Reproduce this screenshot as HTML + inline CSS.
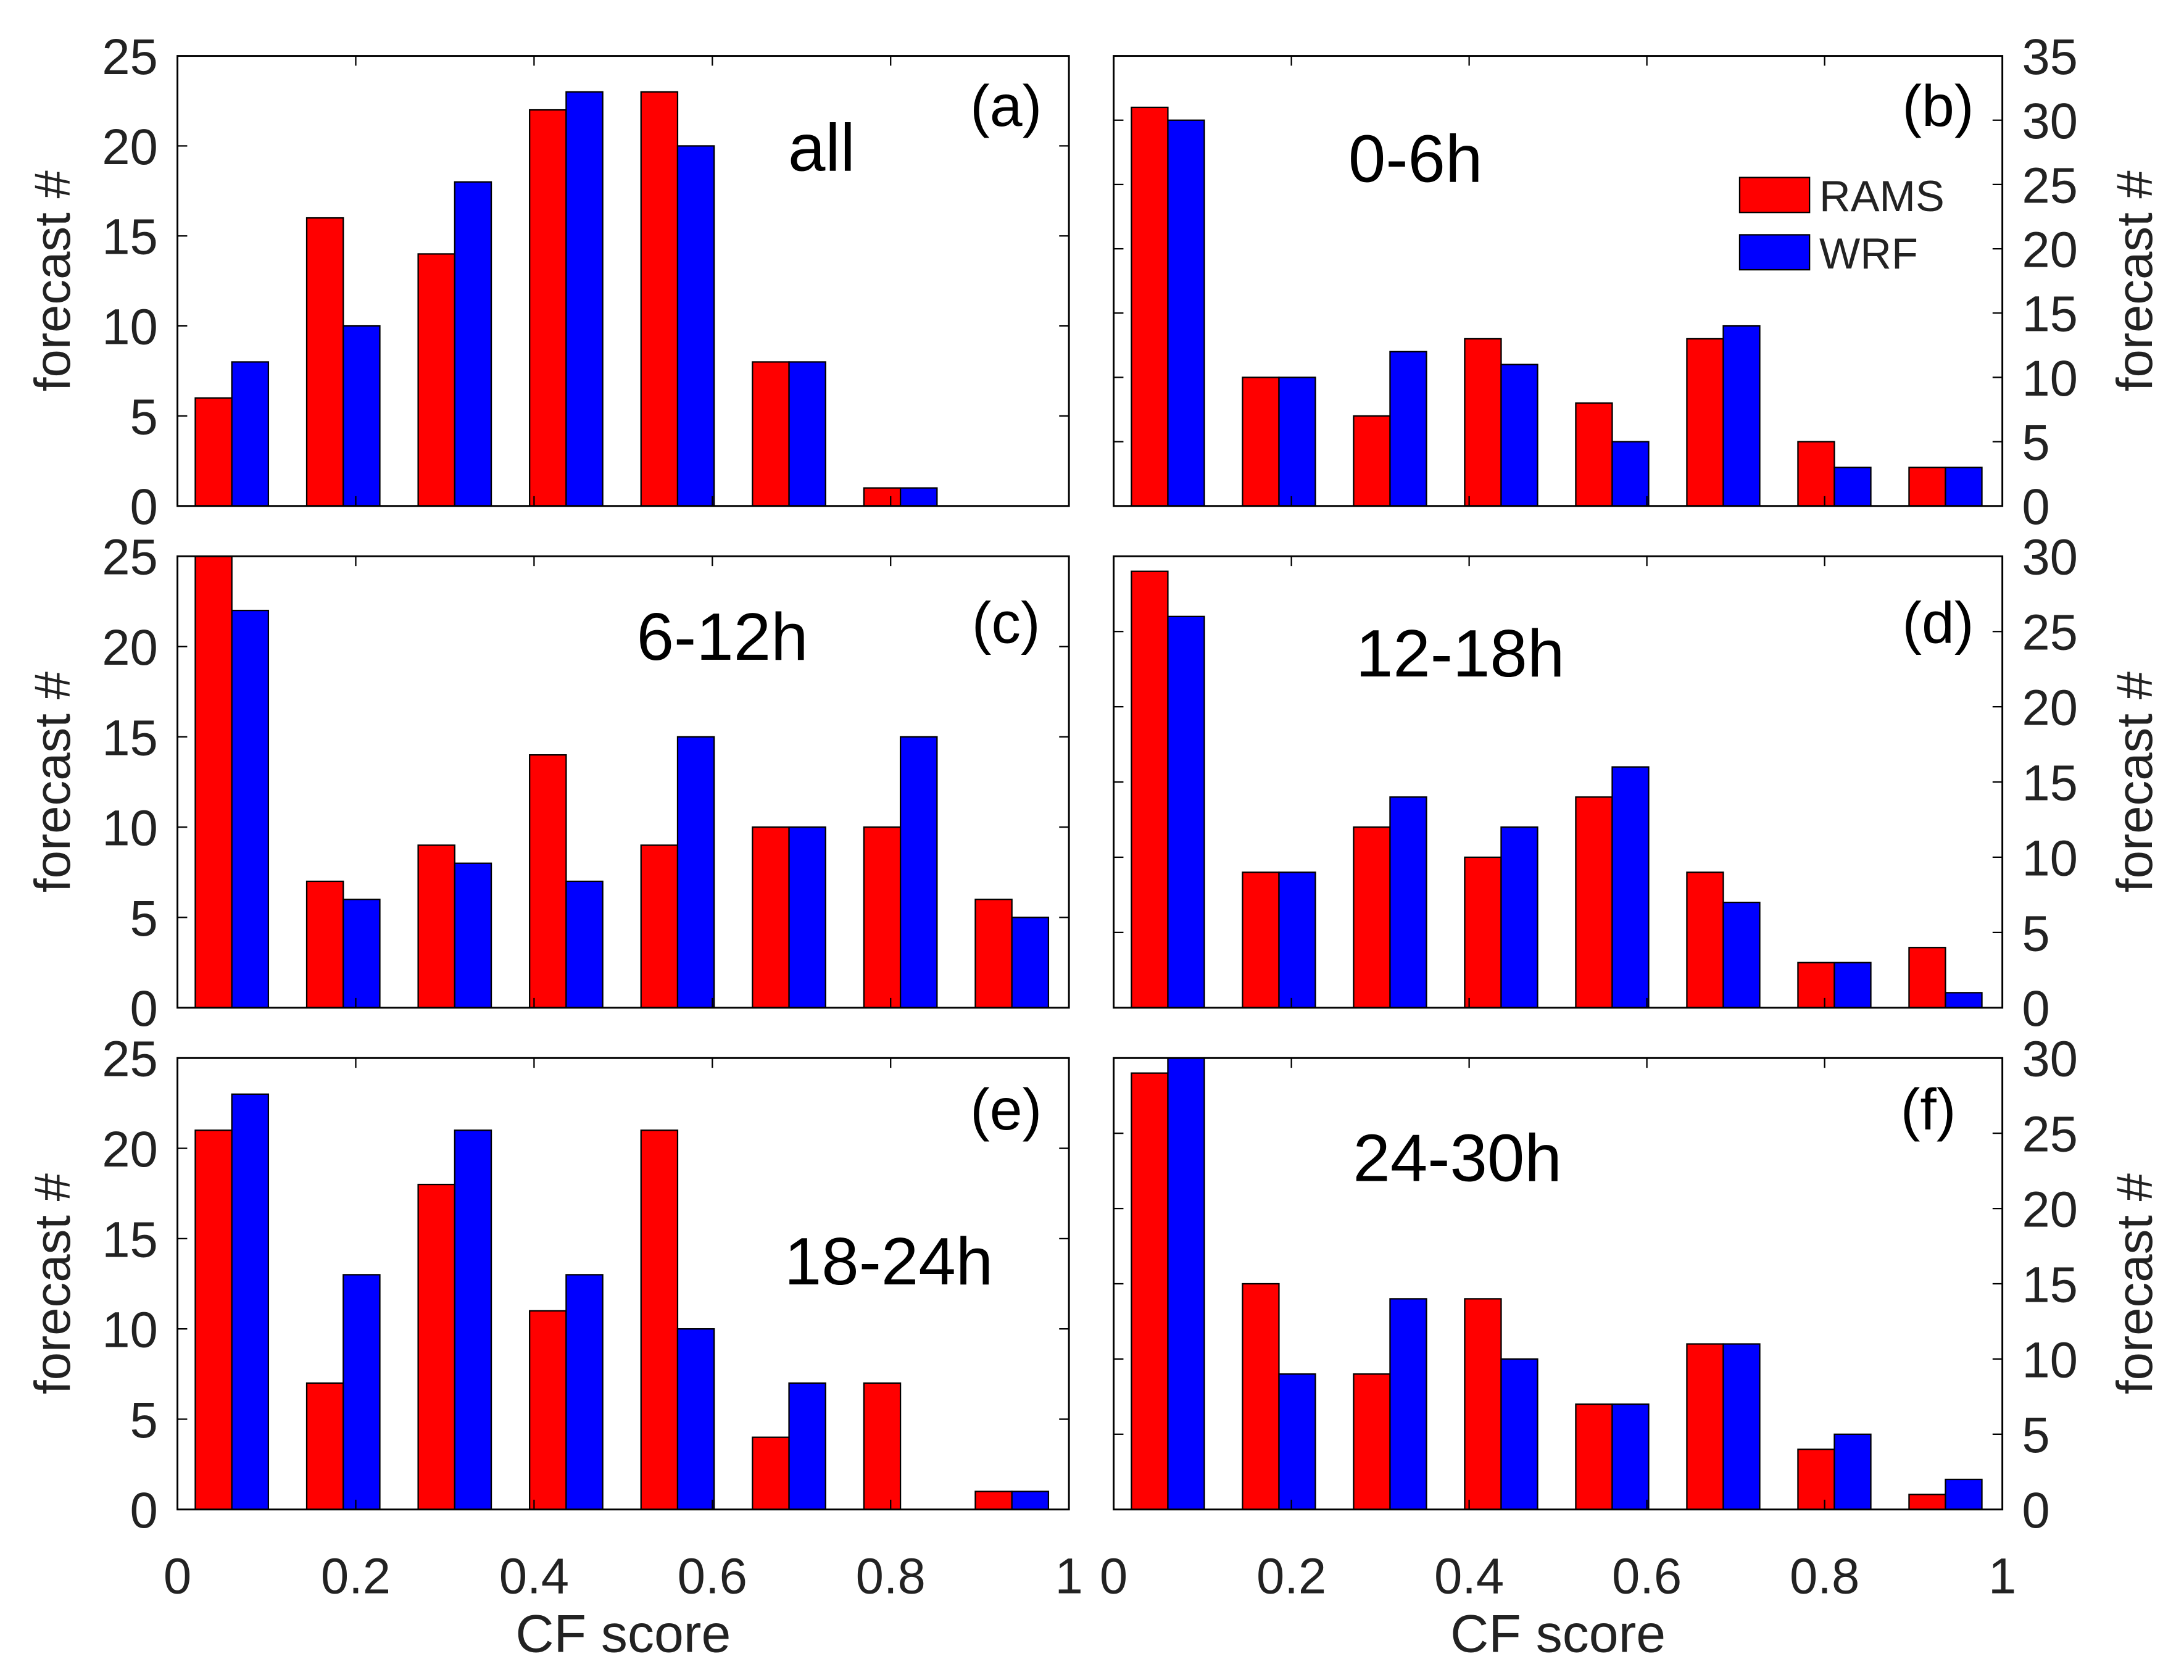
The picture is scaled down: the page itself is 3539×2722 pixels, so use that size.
<!DOCTYPE html>
<html><head><meta charset="utf-8">
<style>html,body{margin:0;padding:0;background:#fff}svg{display:block}</style>
</head><body>
<svg id="chart" width="3539" height="2722" viewBox="0 0 1563 1202" preserveAspectRatio="none" xmlns="http://www.w3.org/2000/svg" font-family="Liberation Sans, sans-serif"></svg>
<script>
const binStarts = [0,0.125,0.25,0.375,0.5,0.625,0.75,0.875];
const ramsA = [6,16,14,22,23,8,1,0];
const wrfA  = [8,10,18,23,20,8,1,0];
const ramsB = [31,10,7,13,8,13,5,3];
const wrfB  = [30,10,12,11,5,14,3,3];
const ramsC = [25,7,9,14,9,10,10,6];
const wrfC  = [22,6,8,7,15,10,15,5];
const ramsD = [29,9,12,10,14,9,3,4];
const wrfD  = [26,9,14,12,16,7,3,1];
const ramsE = [21,7,18,11,21,4,7,1];
const wrfE  = [23,13,21,13,10,7,0,1];
const ramsF = [29,15,9,14,7,11,4,1];
const wrfF  = [30,9,14,10,7,11,5,2];
const xTicks = [0,0.2,0.4,0.6,0.8,1];
const xTickLabels = ['0','0.2','0.4','0.6','0.8','1'];

const panels = [
 {id:'a',x0:127,x1:765,y0:40,y1:362,ymax:25,step:5,side:'left',r:ramsA,w:wrfA,lab:'(a)',lx:720,ly:90,t:'all',tx:588,ty:122,xl:false},
 {id:'b',x0:797,x1:1433,y0:40,y1:362,ymax:35,step:5,side:'right',r:ramsB,w:wrfB,lab:'(b)',lx:1387,ly:90,t:'0-6h',tx:1013,ty:130,xl:false,legend:true},
 {id:'c',x0:127,x1:765,y0:398,y1:721,ymax:25,step:5,side:'left',r:ramsC,w:wrfC,lab:'(c)',lx:720,ly:460,t:'6-12h',tx:517,ty:472,xl:false},
 {id:'d',x0:797,x1:1433,y0:398,y1:721,ymax:30,step:5,side:'right',r:ramsD,w:wrfD,lab:'(d)',lx:1387,ly:460,t:'12-18h',tx:1045,ty:484,xl:false},
 {id:'e',x0:127,x1:765,y0:757,y1:1080,ymax:25,step:5,side:'left',r:ramsE,w:wrfE,lab:'(e)',lx:720,ly:808,t:'18-24h',tx:636,ty:919,xl:true},
 {id:'f',x0:797,x1:1433,y0:757,y1:1080,ymax:30,step:5,side:'right',r:ramsF,w:wrfF,lab:'(f)',lx:1380,ly:808,t:'24-30h',tx:1043,ty:845,xl:true}
];
const svg = document.getElementById('chart');
const NS = 'http://www.w3.org/2000/svg';
function mk(tag, attrs, parent, text){
  const e = document.createElementNS(NS, tag);
  for (const k in attrs) e.setAttribute(k, attrs[k]);
  if (text !== undefined) e.textContent = text;
  (parent||svg).appendChild(e);
  return e;
}
panels.forEach(p=>{
  const g = mk('g',{});
  
  
  const sx = v => p.x0 + v*(p.x1-p.x0);
  const sy = v => p.y1 - v/p.ymax*(p.y1-p.y0);
  binStarts.forEach((b,i)=>{
    const r = mk('rect',{x:sx(b+0.02),y:sy(p.r[i]),width:sx(b+0.061)-sx(b+0.02),height:sy(0)-sy(p.r[i]),fill:'#ff0000',stroke:'#000','stroke-width':1},g);
    
    
    const w = mk('rect',{x:sx(b+0.061),y:sy(p.w[i]),width:sx(b+0.102)-sx(b+0.061),height:sy(0)-sy(p.w[i]),fill:'#0000ff',stroke:'#000','stroke-width':1},g);
    
    
  });
  const box = mk('rect',{x:p.x0,y:p.y0,width:p.x1-p.x0,height:p.y1-p.y0,fill:'none',stroke:'#000','stroke-width':1.3},g);
  
  
  xTicks.forEach((t,i)=>{
    mk('line',{x1:sx(t),x2:sx(t),y1:p.y1,y2:p.y1-7,stroke:'#000'},g);
    mk('line',{x1:sx(t),x2:sx(t),y1:p.y0,y2:p.y0+7,stroke:'#000'},g);
    if(p.xl){
      const tl = mk('text',{x:sx(t),y:1140,'font-size':36,'text-anchor':'middle',fill:'#222'},g,xTickLabels[i]);
      
      
    }
  });
  for(let v=0; v<=p.ymax; v+=p.step){
    mk('line',{x1:p.x0,x2:p.x0+7,y1:sy(v),y2:sy(v),stroke:'#000'},g);
    mk('line',{x1:p.x1,x2:p.x1-7,y1:sy(v),y2:sy(v),stroke:'#000'},g);
    const isL = p.side==='left';
    const yl = mk('text',{x:isL?p.x0-14:p.x1+14,y:sy(v)+13,'font-size':36,'text-anchor':isL?'end':'start',fill:'#222'},g,String(v));
    
    
  }
  const cy = (p.y0+p.y1)/2;
  const tx = p.side==='left'?50:1540;
  const yt = mk('text',{x:tx,y:cy,'font-size':36,'text-anchor':'middle',fill:'#222',transform:`rotate(-90 ${tx} ${cy})`},g,'forecast #');
  
  
  const pl = mk('text',{x:p.lx,y:p.ly,'font-size':42,'text-anchor':'middle',fill:'#000'},g,p.lab);
  
  
  const tt = mk('text',{x:p.tx,y:p.ty,'font-size':48,'text-anchor':'middle',fill:'#000'},g,p.t);
  
  
  if(p.xl){
    const xt = mk('text',{x:(p.x0+p.x1)/2,y:1182,'font-size':38,'text-anchor':'middle',fill:'#222'},g,'CF score');
    
    
  }
  if(p.legend){
    const lg = mk('g',{},g);
    
    
    mk('rect',{x:1245,y:127,width:50,height:25,fill:'#ff0000',stroke:'#000'},lg);
    const l1 = mk('text',{x:1302,y:151,'font-size':31,fill:'#222'},lg,'RAMS');
    
    
    mk('rect',{x:1245,y:168,width:50,height:25,fill:'#0000ff',stroke:'#000'},lg);
    const l2 = mk('text',{x:1302,y:192,'font-size':31,fill:'#222'},lg,'WRF');
    
    
  }
});
</script>
</body></html>
